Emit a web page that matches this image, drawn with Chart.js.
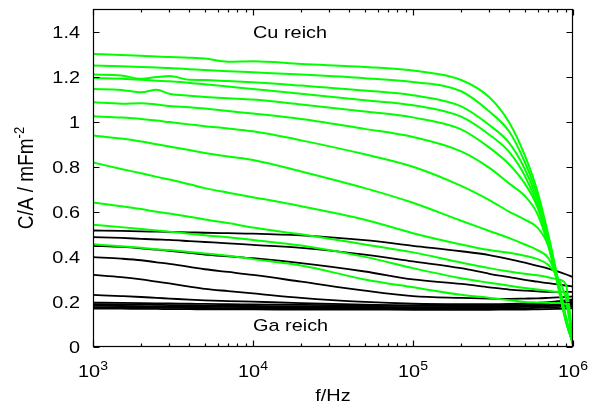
<!DOCTYPE html>
<html>
<head>
<meta charset="utf-8">
<script src="https://cdn.jsdelivr.net/npm/chart.js@4.4.1/dist/chart.umd.min.js"></script>
<style>
  html, body { margin: 0; padding: 0; background: #fff; }
</style>
</head>
<body>
<canvas id="capChart" width="589" height="407"></canvas>
<script>
// -- Data --
var freqHz = [1e3, 1.5e3, 2e3, 2.5e3, 3e3, 4e3, 5e3, 7e3, 1e4, 2e4, 5e4,
              1e5, 2e5, 3e5, 4e5, 5e5, 6e5, 7e5, 8e5, 9e5, 1e6];

// Cu rich samples (green)
var greenSeries = [
  [1.300,1.296,1.292,1.289,1.287,1.284,1.280,1.266,1.268,1.256,1.243,1.227,1.185,1.108,0.995,0.850,0.690,0.500,0.310,0.130,0.010],
  [1.249,1.246,1.243,1.240,1.238,1.233,1.229,1.224,1.219,1.209,1.193,1.176,1.135,1.045,0.955,0.820,0.670,0.490,0.300,0.125,0.010],
  [1.209,1.205,1.190,1.198,1.203,1.186,1.185,1.180,1.175,1.160,1.138,1.117,1.068,0.985,0.905,0.790,0.650,0.480,0.295,0.125,0.015],
  [1.194,1.190,1.186,1.182,1.179,1.172,1.166,1.156,1.145,1.124,1.095,1.073,1.022,0.942,0.865,0.760,0.630,0.470,0.290,0.120,0.015],
  [1.145,1.141,1.130,1.142,1.124,1.115,1.110,1.104,1.098,1.076,1.045,1.019,0.966,0.885,0.810,0.725,0.620,0.460,0.285,0.120,0.015],
  [1.086,1.080,1.082,1.076,1.070,1.064,1.058,1.047,1.036,1.012,0.968,0.932,0.868,0.795,0.725,0.670,0.590,0.450,0.280,0.115,0.015],
  [1.024,1.018,1.012,1.005,0.998,0.988,0.980,0.970,0.957,0.917,0.855,0.800,0.715,0.652,0.600,0.565,0.530,0.450,0.290,0.125,0.015],
  [0.939,0.925,0.912,0.900,0.890,0.874,0.861,0.845,0.830,0.779,0.705,0.640,0.560,0.515,0.483,0.455,0.430,0.395,0.300,0.140,0.020],
  [0.819,0.790,0.771,0.755,0.743,0.722,0.705,0.685,0.665,0.625,0.565,0.505,0.455,0.430,0.418,0.405,0.390,0.365,0.310,0.220,0.020],
  [0.641,0.625,0.612,0.600,0.592,0.578,0.566,0.550,0.530,0.500,0.455,0.420,0.375,0.350,0.335,0.325,0.318,0.310,0.300,0.280,0.020],
  [0.542,0.532,0.524,0.517,0.512,0.503,0.496,0.487,0.475,0.450,0.400,0.350,0.305,0.285,0.272,0.262,0.255,0.250,0.245,0.240,0.020],
  [0.456,0.447,0.440,0.434,0.430,0.422,0.415,0.405,0.390,0.362,0.300,0.265,0.232,0.218,0.208,0.200,0.198,0.196,0.195,0.190,0.020]
];

// Ga rich samples (black)
var blackSeries = [
  [0.517,0.515,0.513,0.512,0.511,0.509,0.507,0.505,0.503,0.495,0.474,0.449,0.425,0.408,0.390,0.374,0.360,0.348,0.336,0.323,0.310],
  [0.488,0.484,0.480,0.477,0.475,0.470,0.466,0.460,0.453,0.440,0.410,0.380,0.350,0.325,0.310,0.298,0.290,0.283,0.278,0.273,0.268],
  [0.449,0.444,0.438,0.432,0.427,0.418,0.410,0.402,0.394,0.372,0.335,0.300,0.280,0.265,0.255,0.250,0.247,0.245,0.245,0.245,0.245],
  [0.399,0.392,0.385,0.376,0.369,0.356,0.345,0.333,0.320,0.290,0.250,0.226,0.218,0.215,0.214,0.215,0.216,0.218,0.220,0.222,0.225],
  [0.320,0.310,0.300,0.290,0.282,0.268,0.258,0.248,0.238,0.218,0.200,0.192,0.190,0.190,0.191,0.193,0.196,0.199,0.203,0.207,0.212],
  [0.231,0.226,0.222,0.218,0.215,0.210,0.207,0.204,0.201,0.195,0.188,0.184,0.182,0.182,0.184,0.187,0.190,0.194,0.198,0.203,0.208],
  [0.197,0.196,0.195,0.194,0.193,0.192,0.191,0.190,0.189,0.187,0.185,0.184,0.184,0.185,0.187,0.189,0.191,0.193,0.196,0.199,0.202],
  [0.190,0.189,0.188,0.187,0.186,0.185,0.184,0.183,0.182,0.180,0.178,0.177,0.177,0.178,0.180,0.182,0.184,0.186,0.188,0.191,0.195],
  [0.183,0.182,0.181,0.180,0.180,0.179,0.178,0.178,0.177,0.176,0.175,0.174,0.174,0.175,0.176,0.178,0.180,0.182,0.184,0.186,0.188],
  [0.176,0.175,0.175,0.174,0.174,0.173,0.173,0.172,0.172,0.171,0.170,0.170,0.170,0.170,0.171,0.172,0.174,0.175,0.177,0.179,0.180],
  [0.170,0.170,0.169,0.169,0.168,0.168,0.167,0.167,0.167,0.166,0.166,0.165,0.165,0.165,0.166,0.166,0.167,0.168,0.169,0.170,0.172]
];

var yTicks = [0, 0.2, 0.4, 0.6, 0.8, 1, 1.2, 1.4];
var xDecades = [3, 4, 5, 6];
var noteLabels = ['Cu reich', 'Ga reich'];
var noteValues = [1.372, 0.071];

// -- Styling --
var FONT = '"Liberation Sans", Arial, sans-serif';
var SX = 1.17;          // text in the reference is a bit wider than tall
var GREEN = '#00ff00';

function toPoints(vals) {
  return vals.map(function (v, i) { return { x: freqHz[i], y: v }; });
}

function lineSet(vals, color, width) {
  return {
    data: toPoints(vals),
    borderColor: color,
    borderWidth: width,
    pointRadius: 0,
    fill: false,
    cubicInterpolationMode: 'monotone'
  };
}

// draw text made of parts (base + superscript), stretched horizontally
function drawRich(ctx, parts, x, y, align, rotate) {
  ctx.save();
  ctx.translate(x, y);
  ctx.scale(SX, 1);
  if (rotate) ctx.rotate(-Math.PI / 2);
  var w = 0;
  parts.forEach(function (p) {
    ctx.font = p.size + 'px ' + FONT;
    p.w = ctx.measureText(p.t).width;
    w += p.w;
  });
  var cx = align === 'center' ? -w / 2 : (align === 'right' ? -w : 0);
  ctx.textAlign = 'left';
  ctx.textBaseline = 'alphabetic';
  ctx.fillStyle = '#000';
  parts.forEach(function (p) {
    ctx.font = p.size + 'px ' + FONT;
    ctx.fillText(p.t, cx, -(p.rise || 0));
    cx += p.w;
  });
  ctx.restore();
}

var framePlugin = {
  id: 'frame',
  afterDraw: function (chart) {
    var ctx = chart.ctx;
    var a = chart.chartArea;
    var xs = chart.scales.x, ys = chart.scales.y;
    var L = Math.round(a.left) + 0.5, R = Math.round(a.right) - 0.5;
    var T = Math.round(a.top) + 0.5, B = Math.round(a.bottom) - 0.5;

    ctx.save();
    ctx.strokeStyle = '#000';
    ctx.lineWidth = 1.2;
    ctx.strokeRect(L, T, R - L, B - T);

    ctx.beginPath();
    // y ticks, both sides, pointing inward
    yTicks.forEach(function (v) {
      var py = Math.round(ys.getPixelForValue(v)) + 0.5;
      ctx.moveTo(L, py); ctx.lineTo(L + 6, py);
      ctx.moveTo(R, py); ctx.lineTo(R - 6, py);
    });
    // x ticks, decades long, the rest short
    xDecades.forEach(function (d, i) {
      var px = Math.round(xs.getPixelForValue(Math.pow(10, d))) + 0.5;
      ctx.moveTo(px, B); ctx.lineTo(px, B - 6);
      ctx.moveTo(px, T); ctx.lineTo(px, T + 6);
      if (i === xDecades.length - 1) return;
      for (var k = 2; k <= 9; k++) {
        var mx = Math.round(xs.getPixelForValue(k * Math.pow(10, d))) + 0.5;
        ctx.moveTo(mx, B); ctx.lineTo(mx, B - 3);
        ctx.moveTo(mx, T); ctx.lineTo(mx, T + 3);
      }
    });
    ctx.stroke();
    ctx.restore();

    // y tick labels
    yTicks.forEach(function (v) {
      var py = ys.getPixelForValue(v);
      drawRich(ctx, [{ t: String(+v.toFixed(1)), size: 17 }], a.left - 13, py + 6, 'right');
    });
    // x tick labels 10^n
    xDecades.forEach(function (d) {
      var px = xs.getPixelForValue(Math.pow(10, d));
      drawRich(ctx, [{ t: '10', size: 17 }, { t: String(d), size: 12, rise: 7 }], px, a.bottom + 30, 'center');
    });
    // axis titles
    drawRich(ctx, [{ t: 'f/Hz', size: 17 }], (a.left + a.right) / 2, 401, 'center');
    drawRich(ctx, [{ t: 'C/A / mFm', size: 19 }, { t: '-2', size: 13, rise: 8 }],
             33, (a.top + a.bottom) / 2, 'center', true);
    // region notes
    noteLabels.forEach(function (txt, i) {
      drawRich(ctx, [{ t: txt, size: 17 }], xs.getPixelForValue(1e4), ys.getPixelForValue(noteValues[i]), 'left');
    });
  }
};

var datasets = greenSeries.map(function (s) { return lineSet(s, GREEN, 2); })
  .concat(blackSeries.map(function (s) { return lineSet(s, '#000', 1.8); }));

new Chart(document.getElementById('capChart'), {
  type: 'line',
  data: { datasets: datasets },
  options: {
    responsive: false,
    animation: false,
    layout: { padding: { top: 9, right: 16, left: 0, bottom: 0 } },
    plugins: { legend: { display: false }, tooltip: { enabled: false } },
    scales: {
      x: {
        type: 'logarithmic', min: 1e3, max: 1e6,
        grid: { display: false }, border: { display: false },
        ticks: { display: false },
        afterFit: function (s) { s.height = 60; }
      },
      y: {
        type: 'linear', min: 0, max: 1.5,
        grid: { display: false }, border: { display: false },
        ticks: { display: false },
        afterFit: function (s) { s.width = 93; }
      }
    }
  },
  plugins: [framePlugin]
});
</script>
</body>
</html>
